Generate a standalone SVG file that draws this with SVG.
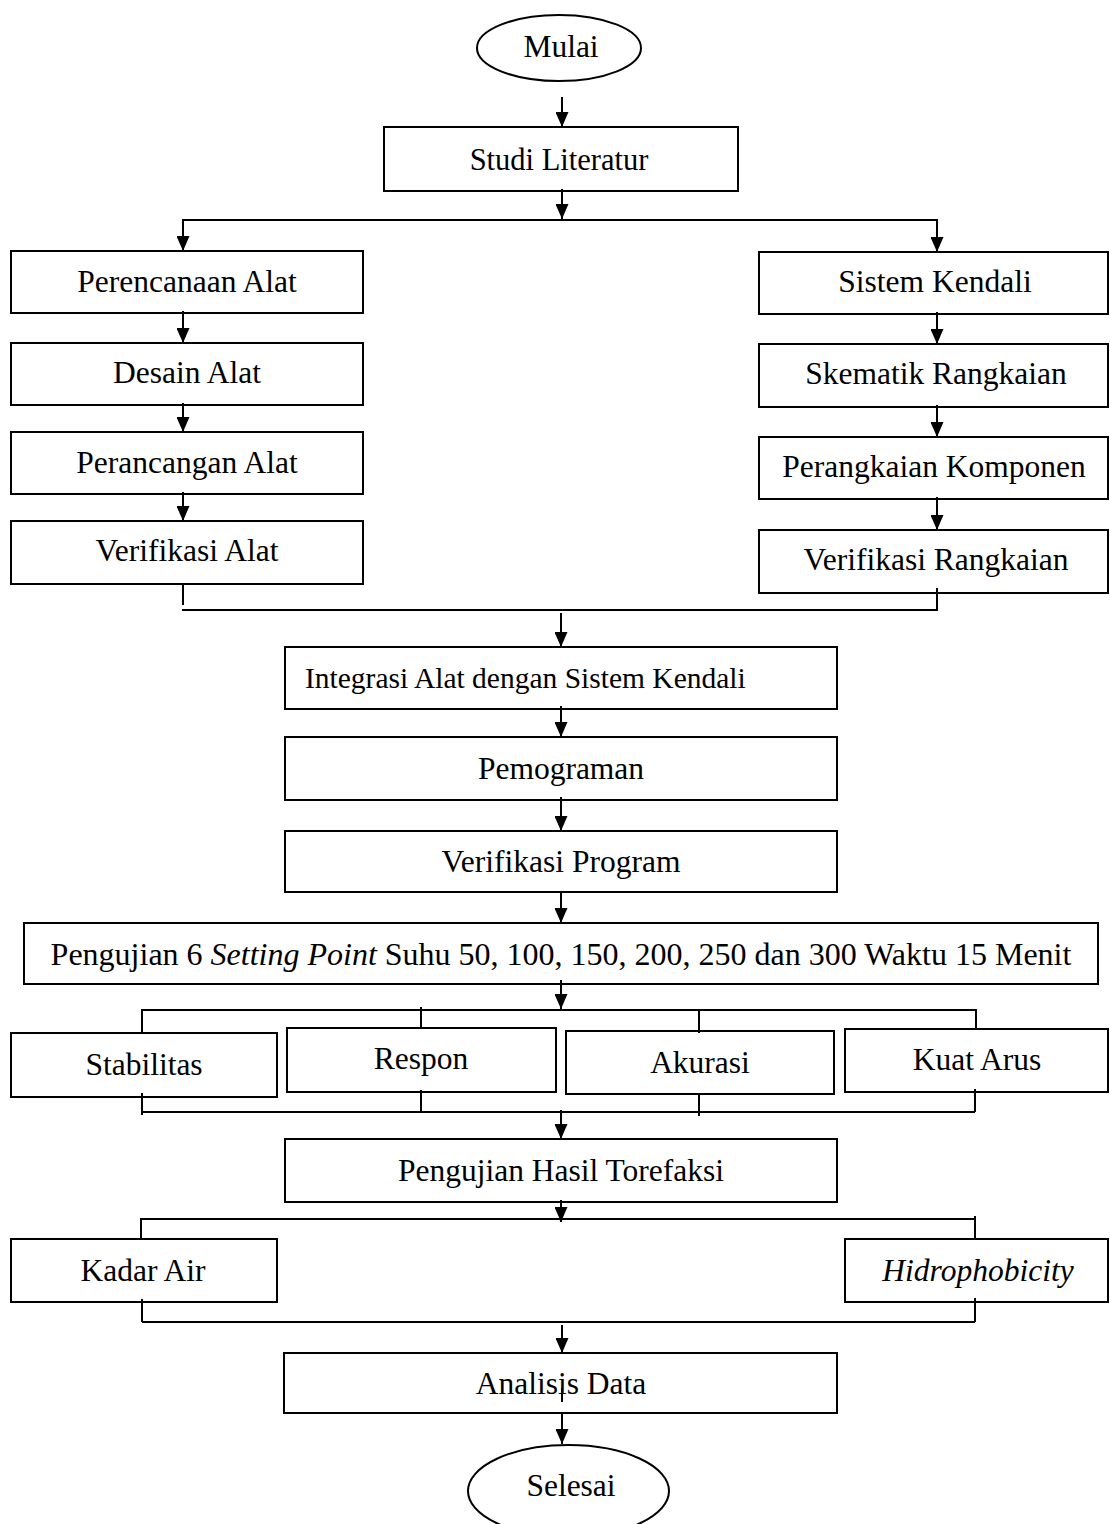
<svg xmlns="http://www.w3.org/2000/svg" width="1110" height="1524" viewBox="0 0 1110 1524">
<style>
.box{fill:#fff;stroke:#000;stroke-width:2}
.t{font-family:"Liberation Serif","Times New Roman",serif;font-size:31.5px;fill:#000;text-anchor:middle}
.it{font-style:italic}
.c{fill:none;stroke:#000;stroke-width:2}
</style>
<defs>
<marker id="ah" markerUnits="userSpaceOnUse" markerWidth="15" markerHeight="13" refX="15" refY="6.5" orient="auto">
<path d="M0,0 L15,6.5 L0,13 z" fill="#000"/>
</marker>
</defs>
<rect width="1110" height="1524" fill="#fff"/>

<g id="mulai"><ellipse class="box" cx="559" cy="48" rx="82" ry="33"/><text class="t" x="561" y="57">Mulai</text></g>
<g id="studi"><rect class="box" x="384" y="127" width="354" height="64"/><text class="t" x="559" y="170" style="font-size:30.5px">Studi Literatur</text></g>

<g id="perencanaan"><rect class="box" x="11" y="251" width="352" height="62"/><text class="t" x="187" y="292">Perencanaan Alat</text></g>
<g id="desain"><rect class="box" x="11" y="343" width="352" height="62"/><text class="t" x="187" y="383">Desain Alat</text></g>
<g id="perancangan"><rect class="box" x="11" y="432" width="352" height="62"/><text class="t" x="187" y="473">Perancangan Alat</text></g>
<g id="verifikasi-alat"><rect class="box" x="11" y="521" width="352" height="63"/><text class="t" x="187" y="561">Verifikasi Alat</text></g>

<g id="sistem-kendali"><rect class="box" x="759" y="252" width="349" height="62"/><text class="t" x="935" y="292">Sistem Kendali</text></g>
<g id="skematik"><rect class="box" x="759" y="344" width="349" height="63"/><text class="t" x="936" y="384">Skematik Rangkaian</text></g>
<g id="perangkaian"><rect class="box" x="759" y="437" width="349" height="62"/><text class="t" x="934" y="477">Perangkaian Komponen</text></g>
<g id="verifikasi-rangkaian"><rect class="box" x="759" y="530" width="349" height="63"/><text class="t" x="936" y="570">Verifikasi Rangkaian</text></g>

<g id="integrasi"><rect class="box" x="285" y="647" width="552" height="62"/><text class="t" x="305" y="688" style="text-anchor:start;font-size:29.5px">Integrasi Alat dengan Sistem Kendali</text></g>
<g id="pemograman"><rect class="box" x="285" y="737" width="552" height="63"/><text class="t" x="561" y="779">Pemograman</text></g>
<g id="verifikasi-program"><rect class="box" x="285" y="831" width="552" height="61"/><text class="t" x="561" y="872">Verifikasi Program</text></g>

<g id="pengujian"><rect class="box" x="24" y="923" width="1074" height="61"/><text class="t" x="561" y="965" style="font-size:32px">Pengujian 6 <tspan class="it">Setting Point</tspan> Suhu 50, 100, 150, 200, 250 dan 300 Waktu 15 Menit</text></g>

<g id="stabilitas"><rect class="box" x="11" y="1033" width="266" height="64"/><text class="t" x="144" y="1075">Stabilitas</text></g>
<g id="respon"><rect class="box" x="287" y="1028" width="269" height="64"/><text class="t" x="421" y="1069">Respon</text></g>
<g id="akurasi"><rect class="box" x="566" y="1031" width="268" height="63"/><text class="t" x="700" y="1073">Akurasi</text></g>
<g id="kuat-arus"><rect class="box" x="845" y="1029" width="263" height="63"/><text class="t" x="977" y="1070">Kuat Arus</text></g>

<g id="torefaksi"><rect class="box" x="285" y="1139" width="552" height="63"/><text class="t" x="561" y="1181">Pengujian Hasil Torefaksi</text></g>

<g id="kadar-air"><rect class="box" x="11" y="1239" width="266" height="63"/><text class="t" x="143" y="1281">Kadar Air</text></g>
<g id="hidrophobicity"><rect class="box" x="845" y="1239" width="263" height="63"/><text class="t it" x="978" y="1281">Hidrophobicity</text></g>

<g id="analisis"><rect class="box" x="284" y="1353" width="553" height="60"/><text class="t" x="561" y="1394">Analisis Data</text></g>
<g id="selesai"><ellipse class="box" cx="568.5" cy="1491" rx="100.5" ry="46"/><text class="t" x="571" y="1496">Selesai</text></g>

<g id="connectors">
<line class="c" x1="562" y1="97" x2="562" y2="127" marker-end="url(#ah)"/>
<line class="c" x1="562" y1="189" x2="562" y2="219" marker-end="url(#ah)"/>
<polyline class="c" points="183,251 183,220 937,220 937,252" />
<line class="c" x1="183" y1="222" x2="183" y2="251" marker-end="url(#ah)"/>
<line class="c" x1="937" y1="222" x2="937" y2="252" marker-end="url(#ah)"/>

<line class="c" x1="183" y1="311" x2="183" y2="343" marker-end="url(#ah)"/>
<line class="c" x1="183" y1="403" x2="183" y2="432" marker-end="url(#ah)"/>
<line class="c" x1="183" y1="492" x2="183" y2="521" marker-end="url(#ah)"/>
<line class="c" x1="937" y1="312" x2="937" y2="344" marker-end="url(#ah)"/>
<line class="c" x1="937" y1="405" x2="937" y2="437" marker-end="url(#ah)"/>
<line class="c" x1="937" y1="497" x2="937" y2="530" marker-end="url(#ah)"/>

<line class="c" x1="183" y1="584" x2="183" y2="605"/>
<polyline class="c" points="182,610 937,610 937,588"/>
<line class="c" x1="561" y1="613" x2="561" y2="647" marker-end="url(#ah)"/>
<line class="c" x1="561" y1="706" x2="561" y2="737" marker-end="url(#ah)"/>
<line class="c" x1="561" y1="797" x2="561" y2="831" marker-end="url(#ah)"/>
<line class="c" x1="561" y1="892" x2="561" y2="923" marker-end="url(#ah)"/>

<line class="c" x1="561" y1="980" x2="561" y2="1009" marker-end="url(#ah)"/>
<polyline class="c" points="142,1033 142,1010 976,1010 976,1029"/>
<line class="c" x1="421" y1="1007" x2="421" y2="1028"/>
<line class="c" x1="699" y1="1010" x2="699" y2="1033"/>
<line class="c" x1="142" y1="1093" x2="142" y2="1115"/>
<line class="c" x1="421" y1="1090" x2="421" y2="1112"/>
<line class="c" x1="699" y1="1094" x2="699" y2="1116"/>
<line class="c" x1="975" y1="1089" x2="975" y2="1112"/>
<line class="c" x1="142" y1="1112" x2="975" y2="1112"/>
<line class="c" x1="561" y1="1110" x2="561" y2="1139" marker-end="url(#ah)"/>

<line class="c" x1="561" y1="1200" x2="561" y2="1222" marker-end="url(#ah)"/>
<polyline class="c" points="141,1239 141,1219 975,1219"/>
<line class="c" x1="975" y1="1216" x2="975" y2="1239"/>
<line class="c" x1="142" y1="1299" x2="142" y2="1322"/>
<line class="c" x1="975" y1="1298" x2="975" y2="1322"/>
<line class="c" x1="142" y1="1322" x2="975" y2="1322"/>

<line class="c" x1="562" y1="1325" x2="562" y2="1353" marker-end="url(#ah)"/>
<line class="c" x1="562" y1="1388" x2="562" y2="1402"/>
<line class="c" x1="562" y1="1413" x2="562" y2="1444" marker-end="url(#ah)"/>
</g>
</svg>
